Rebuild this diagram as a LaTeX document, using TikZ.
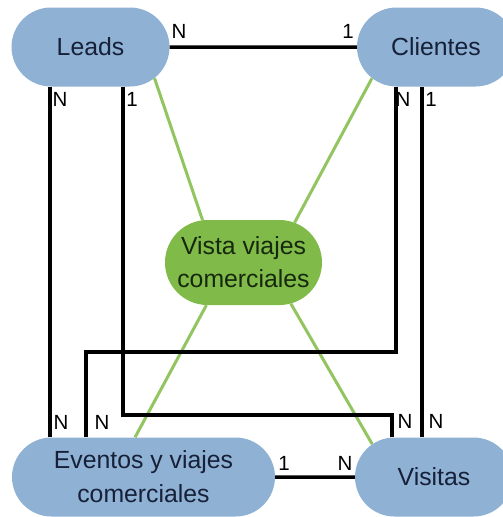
\documentclass[tikz,border=0pt]{standalone}
\usepackage{fontspec}
\setmainfont{Liberation Sans}
\usetikzlibrary{shapes.misc}

\definecolor{entityblue}{RGB}{143,177,212}
\definecolor{viewgreen}{RGB}{128,186,72}
\definecolor{linkgreen}{RGB}{146,196,96}
\definecolor{entitytext}{RGB}{22,32,56}
\definecolor{viewtext}{RGB}{22,40,14}

\begin{document}
\begin{tikzpicture}[x=1pt,y=-1pt,
  entity/.style={rounded rectangle, fill=entityblue, text=entitytext,
    minimum height=79pt, inner sep=0pt, align=center,
    font=\fontsize{24.8}{34}\selectfont},
  view/.style={rounded rectangle, fill=viewgreen, text=viewtext,
    minimum width=157pt, minimum height=85pt, inner sep=0pt, align=center,
    font=\fontsize{24.8}{33}\selectfont},
  rel/.style={line width=3.5pt, black},
  link/.style={line width=3pt, linkgreen},
  card/.style={inner sep=0pt, text=black, font=\fontsize{20.5}{20.5}\selectfont}]

\useasboundingbox (0,0) rectangle (503,517);

% entities
\node[entity, minimum width=158pt] (leads)    at (90.5,47)  {Leads};
\node[entity, minimum width=158pt] (clientes) at (436,47)   {Clientes};
\node[entity, minimum width=263pt] (eventos)  at (143.5,477) {Eventos y viajes\\comerciales};
\node[entity, minimum width=158pt] (visitas)  at (434,477)  {Visitas};
\node[view] (vista) at (243.5,262.5) {Vista viajes\\comerciales};

% columns and rows used by the routed relations
\coordinate (colA) at (50,0);
\coordinate (colB) at (86,0);
\coordinate (colC) at (123,0);
\coordinate (colD) at (392,0);
\coordinate (colE) at (396,0);
\coordinate (colF) at (422,0);
\coordinate (rowA) at (0,352);
\coordinate (rowB) at (0,415);

% view links
\draw[link] (leads.-26)    -- (vista.134);
\draw[link] (clientes.206) -- (vista.38);
\draw[link] (eventos.102)  -- (vista.229);
\draw[link] (visitas.152)  -- (vista.-41);

% relations
\draw[rel] (leads) -- (clientes);
\draw[rel] (eventos) -- (visitas);
\draw[rel] (leads.south -| colA) -- (eventos.north -| colA);
\draw[rel] (leads.south -| colC) -- (colC |- rowB) -- (colD |- rowB) -- (visitas.north -| colD);
\draw[rel] (clientes.south -| colE) -- (colE |- rowA) -- (colB |- rowA) -- (eventos.north -| colB);
\draw[rel] (clientes.south -| colF) -- (visitas.north -| colF);

% cardinalities
\node[card] (cLC)  at (179,31)  {N};
\node[card] (cCL)  at (348,31)  {1};
\node[card] (cLE)  at (60,99)   {N};
\node[card] (cLV)  at (132,99)  {1};
\node[card] (cCE)  at (403,99)  {N};
\node[card] (cCV)  at (431,99)  {1};
\node[card] (cEL)  at (61,422)  {N};
\node[card] (cEC)  at (102,422) {N};
\node[card] (cVL)  at (405,421) {N};
\node[card] (cVC)  at (436,421) {N};
\node[card] (cEV)  at (284,463) {1};
\node[card] (cVE)  at (345,463) {N};
\end{tikzpicture}
\end{document}
